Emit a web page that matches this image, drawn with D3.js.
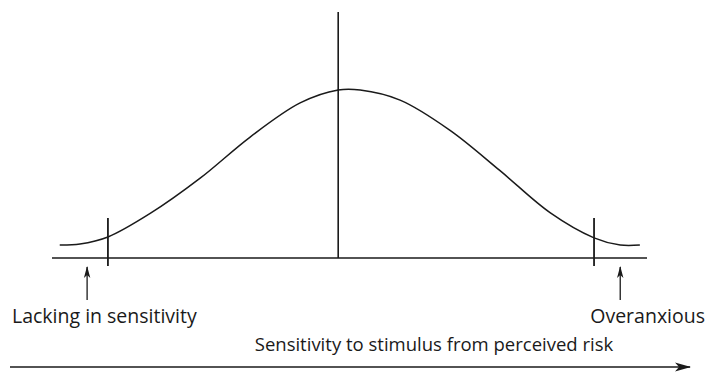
<!DOCTYPE html>
<html>
<head>
<meta charset="utf-8">
<script src="https://cdn.jsdelivr.net/npm/d3@7"></script>
<style>
  html, body { margin: 0; padding: 0; background: #fff; }
  svg { display: block; }
  text { font-family: "Open Sans", "Noto Sans", sans-serif; fill: #1a1a1a; }
</style>
</head>
<body>
<svg id="chart" width="710" height="381"></svg>
<script>
// Sensitivity along the horizontal axis (0-100), response height (0-100)
const sensitivity = [1.3, 4.7, 9.4, 16.5, 24.9, 33.3, 41.7, 48.1, 51.8, 58.5, 66.9, 75.3, 83.7, 91.1, 95.5, 98.8];
const response    = [7.7, 8.3, 12.5, 26.5, 47.5, 72, 92.3, 100, 100, 94, 76, 52, 27, 12, 7.7, 7.7];

// Reference markers on the axis
const centreMark = 48.1;
const edgeMarks = [9.4, 91.1];
const pointerMarks = [5.9, 95.5];
const pointerLabels = ["Lacking in sensitivity", "Overanxious"];
const axisTitle = "Sensitivity to stimulus from perceived risk";

const svg = d3.select("#chart");
const ink = "#1a1a1a";

const x = d3.scaleLinear().domain([0, 100]).range([52, 647]);
const y = d3.scaleLinear().domain([0, 100]).range([258, 90]);

// baseline
svg.append("line")
  .attr("x1", x(0)).attr("x2", x(100))
  .attr("y1", y(0)).attr("y2", y(0))
  .attr("stroke", ink).attr("stroke-width", 1.4);

// bell curve
const pts = sensitivity.map((s, i) => [s, response[i]]);
svg.append("path")
  .datum(pts)
  .attr("fill", "none")
  .attr("stroke", ink)
  .attr("stroke-width", 1.5)
  .attr("d", d3.line().x(d => x(d[0])).y(d => y(d[1])).curve(d3.curveCatmullRom.alpha(0.5)));

// centre line
svg.append("line")
  .attr("x1", x(centreMark)).attr("x2", x(centreMark))
  .attr("y1", 12).attr("y2", y(0))
  .attr("stroke", ink).attr("stroke-width", 1.6);

// edge ticks
svg.selectAll("line.edge")
  .data(edgeMarks)
  .join("line")
  .attr("class", "edge")
  .attr("x1", d => x(d)).attr("x2", d => x(d))
  .attr("y1", y(0) - 40).attr("y2", y(0) + 8)
  .attr("stroke", ink).attr("stroke-width", 1.8);

// arrowhead markers
const defs = svg.append("defs");
defs.append("marker")
  .attr("id", "head")
  .attr("viewBox", "0 0 12 8")
  .attr("refX", 11).attr("refY", 4)
  .attr("markerWidth", 12).attr("markerHeight", 8)
  .attr("markerUnits", "userSpaceOnUse")
  .attr("orient", "auto")
  .append("path")
  .attr("d", "M0,0.8 L12,4 L0,7.2 L3,4 Z")
  .attr("fill", ink);

defs.append("marker")
  .attr("id", "bighead")
  .attr("viewBox", "0 0 16 10")
  .attr("refX", 15).attr("refY", 5)
  .attr("markerWidth", 16).attr("markerHeight", 10)
  .attr("markerUnits", "userSpaceOnUse")
  .attr("orient", "auto")
  .append("path")
  .attr("d", "M0,0.5 L16,5 L0,9.5 L4,5 Z")
  .attr("fill", ink);

// pointer arrows
svg.selectAll("line.pointer")
  .data(pointerMarks)
  .join("line")
  .attr("class", "pointer")
  .attr("x1", d => x(d)).attr("x2", d => x(d))
  .attr("y1", 300).attr("y2", 267)
  .attr("stroke", ink).attr("stroke-width", 1.3)
  .attr("marker-end", "url(#head)");

// pointer labels
svg.append("text")
  .attr("x", 12).attr("y", 323)
  .attr("font-size", 19.5)
  .text(pointerLabels[0]);
svg.append("text")
  .attr("x", 705).attr("y", 323)
  .attr("text-anchor", "end")
  .attr("font-size", 19.5)
  .text(pointerLabels[1]);

// axis title and direction arrow
svg.append("text")
  .attr("x", 434).attr("y", 351)
  .attr("text-anchor", "middle")
  .attr("font-size", 18.5)
  .text(axisTitle);

svg.append("line")
  .attr("x1", 10).attr("x2", 690)
  .attr("y1", 367).attr("y2", 367)
  .attr("stroke", ink).attr("stroke-width", 1.5)
  .attr("marker-end", "url(#bighead)");
</script>
</body>
</html>
